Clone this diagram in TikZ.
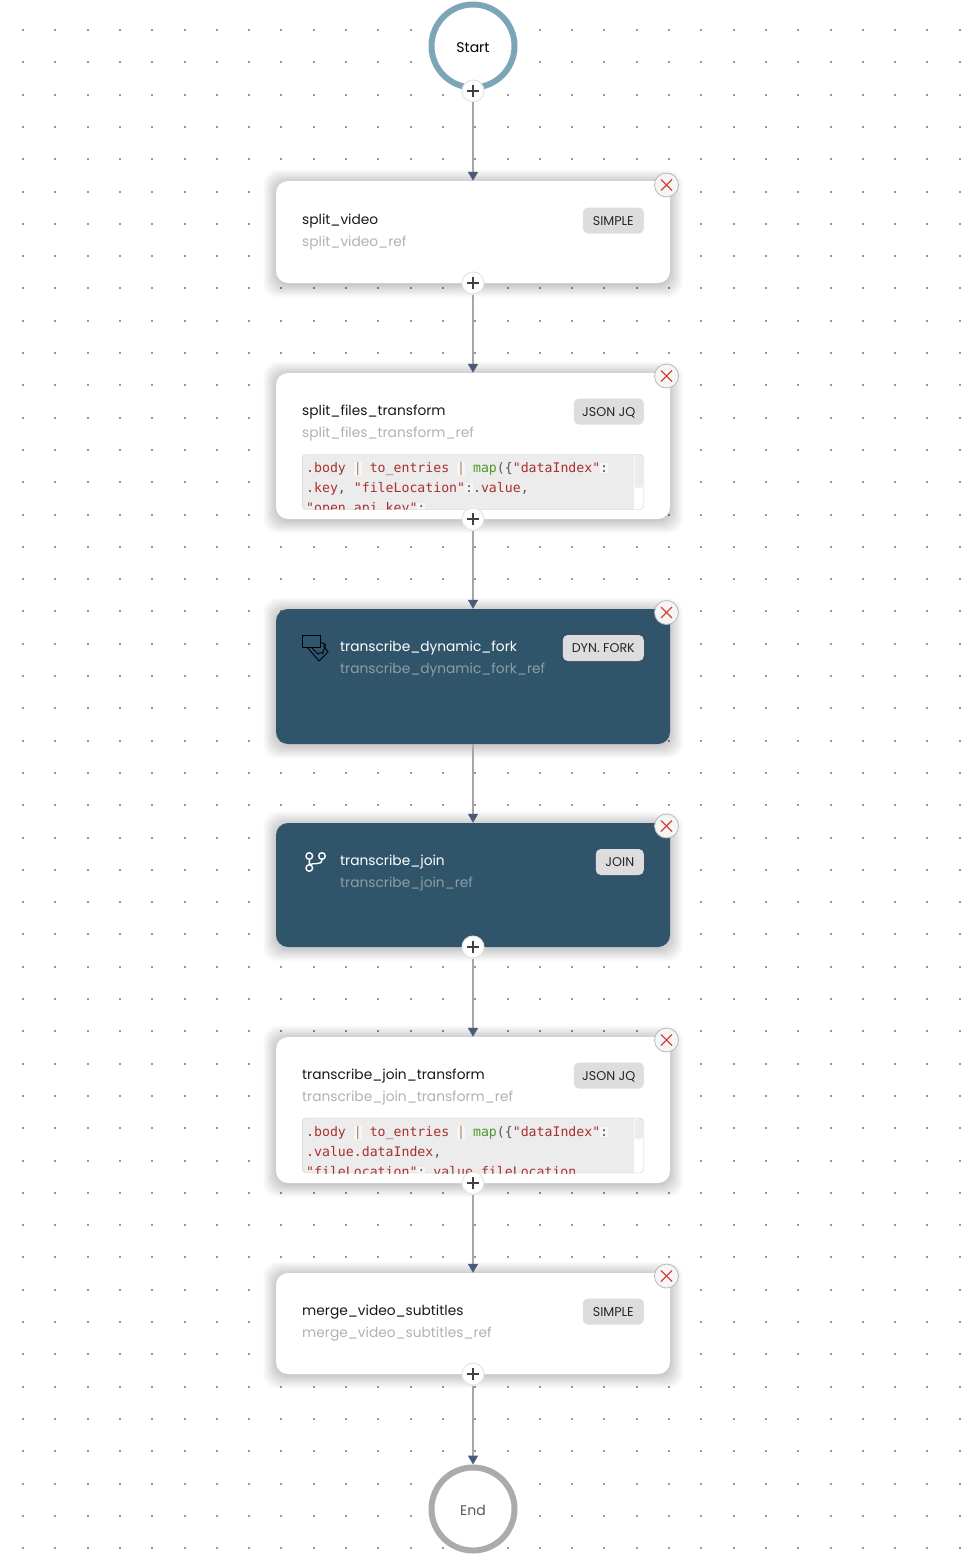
\documentclass[tikz,border=0pt]{standalone}
\usepackage{fontspec}
\setmainfont{Poppins}
\setmonofont{DejaVu Sans Mono}
\usetikzlibrary{arrows.meta}
\setlength{\fboxsep}{0pt}

\definecolor{gridDot}{HTML}{989898}
\definecolor{ringStart}{HTML}{7DA5B8}
\definecolor{ringEnd}{HTML}{ABABAB}
\definecolor{cardDark}{HTML}{30556A}
\definecolor{tagGray}{HTML}{DDDDDD}
\definecolor{refGray}{HTML}{B2B2B2}
\definecolor{refDark}{HTML}{8C9CA6}
\definecolor{lineGray}{HTML}{A6A6A6}
\definecolor{tipBlue}{HTML}{4A5A78}
\definecolor{closeRed}{HTML}{D8433B}
\definecolor{codeBack}{HTML}{ECECEC}
\definecolor{codeRim}{HTML}{CFCFCF}
\definecolor{codeLit}{HTML}{F6F6F6}
\definecolor{codeRed}{HTML}{A9302F}
\definecolor{codeGreen}{HTML}{4C9A2A}
\definecolor{codePipe}{HTML}{A9825A}
\definecolor{codeText}{HTML}{555555}

\newcommand{\tokred}[1]{\textcolor{codeRed}{#1}}
\newcommand{\tokgreen}[1]{\textcolor{codeGreen}{#1}}
\newcommand{\tokplain}[1]{\textcolor{codeText}{#1}}
\newcommand{\tokpipe}{\colorbox{codeLit}{\rule{0pt}{10pt}\textcolor{codePipe}{|}}}
\newcommand{\tokcolon}{\colorbox{codeLit}{\rule{0pt}{10pt}\textcolor{codeText}{:}}}
\newcommand{\cardshadow}[2]{%
  \foreach \s in {0.5,1,...,13}
    \fill[black, opacity=0.0075, rounded corners=14] (276-\s,#1-\s+1.5) rectangle (670+\s,#2+\s+1.5);
}

\tikzset{
  ringnode/.style={circle, draw, fill=white, line width=6, minimum size=83, inner sep=0, text height=13.5, text depth=0, font=\fontsize{14}{16}\selectfont},
  whitecard/.style={rectangle, fill=white, rounded corners=12, minimum width=394, inner sep=0},
  darkcard/.style={whitecard, fill=cardDark},
  titletext/.style={anchor=base west, inner sep=0, text=black!90, font=\fontsize{13.75}{16}\selectfont},
  reftext/.style={titletext, text=refGray},
  tagbox/.style={rectangle, anchor=east, fill=tagGray, rounded corners=5, minimum height=26, inner sep=0, text height=9, text depth=0, text=black!85, font=\fontsize{12.7}{14}\selectfont},
  codebox/.style={rectangle, fill=codeBack, rounded corners=4, minimum width=342, minimum height=55, inner sep=0},
  codeline/.style={anchor=base west, inner sep=0, font=\ttfamily\fontsize{13.2}{16}\selectfont},
  connector/.style={draw=lineGray, line width=1.5, -{Triangle[color=tipBlue, length=9, width=10]}},
  plusbtn/.style={circle, fill=white, draw=black!10, line width=1, minimum size=22, inner sep=0,
    path picture={\draw[black!75, line width=1.1]
      ([xshift=-6]path picture bounding box.center) -- ([xshift=6]path picture bounding box.center)
      ([yshift=-6]path picture bounding box.center) -- ([yshift=6]path picture bounding box.center);}},
  closebtn/.style={circle, fill=black!4, draw=black!28, line width=0.8, minimum size=24, inner sep=0,
    path picture={\draw[closeRed, line width=1.3]
      ([shift={(-5.5,-5.5)}]path picture bounding box.center) -- ([shift={(5.5,5.5)}]path picture bounding box.center)
      ([shift={(-5.5,5.5)}]path picture bounding box.center) -- ([shift={(5.5,-5.5)}]path picture bounding box.center);}}
}

\begin{document}
\begin{tikzpicture}[x=1pt, y=-1pt]
\useasboundingbox (0,0) rectangle (968,1560);
\fill[white] (0,0) rectangle (968,1560);

\foreach \i in {0,...,29}
  \foreach \j in {0,...,47}
    \fill[gridDot] (22+32.3*\i,29+32.3*\j) rectangle ++(2,2);

\cardshadow{181}{283}
\cardshadow{373}{519}
\cardshadow{609}{744}
\cardshadow{823}{947}
\cardshadow{1037}{1183}
\cardshadow{1273}{1374}

\node[ringnode, draw=ringStart] (startNode) at (473,46) {Start};
\node[ringnode, draw=ringEnd, text=black!65] (endNode) at (473,1509) {End};

\node[whitecard, minimum height=102] (splitVideo) at (473,232) {};
\node[titletext] (titleSplitVideo) at (302,224) {split\_video};
\node[reftext] (refSplitVideo) at (302,246) {split\_video\_ref};
\node[tagbox, minimum width=61] (tagSplitVideo) at (644,220.5) {SIMPLE};

\node[whitecard, minimum height=146] (splitFiles) at (473,446) {};
\node[titletext] (titleSplitFiles) at (302,415) {split\_files\_transform};
\node[reftext] (refSplitFiles) at (302,437) {split\_files\_transform\_ref};
\node[tagbox, minimum width=70] (tagSplitFiles) at (644,411.5) {JSON JQ};
\node[codebox] (codeSplitFiles) at (473,482) {};
\begin{scope}
\clip[rounded corners=4] (302,454.5) rectangle (644,509.5);
\node[codeline] (codeSplitFilesA) at (306,472.5) {\tokred{.body} \tokpipe{} \tokred{to\_entries} \tokpipe{} \tokgreen{map}\tokplain{(\{}\tokred{"dataIndex"}\tokcolon};
\node[codeline] (codeSplitFilesB) at (306,492.5) {\tokred{.key}\tokplain{,} \tokred{"fileLocation"}\tokcolon\tokred{.value}\tokplain{,}};
\node[codeline] (codeSplitFilesC) at (306,512.5) {\tokred{"open\_api\_key"}\tokcolon};
\fill[white] (634,454.5) rectangle (644,509.5);
\fill[codeBack, rounded corners=3] (634.5,454.5) rectangle (643,488);
\end{scope}
\draw[codeRim, rounded corners=4] (302.3,454.5) rectangle (643.7,509.5);

\node[darkcard, minimum height=135] (dynFork) at (473,676.5) {};
\draw[black, line width=0.9] (302.5,635.5) rectangle (320.5,647);
\draw[black, line width=0.9] (307,647) -- (319,661) -- (328,652) -- (323.5,645.5) (320.5,642) -- (325.5,644.5) -- (322.5,654) (311,647) -- (318,654) -- (323,652);
\node[titletext, text=white] (titleDynFork) at (340,651) {transcribe\_dynamic\_fork};
\node[reftext, text=refDark] (refDynFork) at (340,673) {transcribe\_dynamic\_fork\_ref};
\node[tagbox, minimum width=81] (tagDynFork) at (644,648) {DYN. FORK};

\node[darkcard, minimum height=124] (joinTask) at (473,885) {};
\draw[white, line width=1.4] (309.3,856) circle (3.3) (322,856) circle (3.3) (309.3,868) circle (3.3);
\draw[white, line width=1.4] (309.3,859.3) -- (309.3,864.7) (322,859.3) .. controls (322,863) and (319,863.7) .. (316,863.7) -- (313,863.7) -- (309.3,864.7);
\node[titletext, text=white] (titleJoinTask) at (340,865) {transcribe\_join};
\node[reftext, text=refDark] (refJoinTask) at (340,887) {transcribe\_join\_ref};
\node[tagbox, minimum width=48] (tagJoinTask) at (644,862) {JOIN};

\node[whitecard, minimum height=146] (joinTransform) at (473,1110) {};
\node[titletext] (titleJoinTransform) at (302,1079) {transcribe\_join\_transform};
\node[reftext] (refJoinTransform) at (302,1101) {transcribe\_join\_transform\_ref};
\node[tagbox, minimum width=70] (tagJoinTransform) at (644,1075.5) {JSON JQ};
\node[codebox] (codeJoinTransform) at (473,1145.5) {};
\begin{scope}
\clip[rounded corners=4] (302,1118) rectangle (644,1173);
\node[codeline] (codeJoinTransformA) at (306,1136.5) {\tokred{.body} \tokpipe{} \tokred{to\_entries} \tokpipe{} \tokgreen{map}\tokplain{(\{}\tokred{"dataIndex"}\tokcolon};
\node[codeline] (codeJoinTransformB) at (306,1156.5) {\tokred{.value.dataIndex}\tokplain{,}};
\node[codeline] (codeJoinTransformC) at (306,1176.5) {\tokred{"fileLocation"}\tokcolon\tokred{.value.fileLocation}\tokplain{,}};
\fill[white] (634,1118) rectangle (644,1173);
\fill[codeBack, rounded corners=3] (634.5,1118) rectangle (643,1139);
\end{scope}
\draw[codeRim, rounded corners=4] (302.3,1118) rectangle (643.7,1173);

\node[whitecard, minimum height=101] (mergeVideo) at (473,1323.5) {};
\node[titletext] (titleMergeVideo) at (302,1315) {merge\_video\_subtitles};
\node[reftext] (refMergeVideo) at (302,1337) {merge\_video\_subtitles\_ref};
\node[tagbox, minimum width=61] (tagMergeVideo) at (644,1311.5) {SIMPLE};

\node[plusbtn] (plusStart) at (473,91) {};
\node[plusbtn] (plusSplitVideo) at (473,283) {};
\node[plusbtn] (plusSplitFiles) at (473,519) {};
\node[plusbtn] (plusJoinTask) at (473,947) {};
\node[plusbtn] (plusJoinTransform) at (473,1183) {};
\node[plusbtn] (plusMergeVideo) at (473,1374) {};

\node[closebtn] (closeSplitVideo) at (666.5,185) {};
\node[closebtn] (closeSplitFiles) at (666.5,376) {};
\node[closebtn] (closeDynFork) at (666.5,612.5) {};
\node[closebtn] (closeJoinTask) at (666.5,826) {};
\node[closebtn] (closeJoinTransform) at (666.5,1040) {};
\node[closebtn] (closeMergeVideo) at (666.5,1276) {};

\draw[connector] (plusStart) -- (splitVideo);
\draw[connector] (plusSplitVideo) -- (splitFiles);
\draw[connector] (plusSplitFiles) -- (dynFork);
\draw[connector] (dynFork) -- (joinTask);
\draw[connector] (plusJoinTask) -- (joinTransform);
\draw[connector] (plusJoinTransform) -- (mergeVideo);
\draw[connector] (plusMergeVideo) -- (endNode);

\end{tikzpicture}
\end{document}
